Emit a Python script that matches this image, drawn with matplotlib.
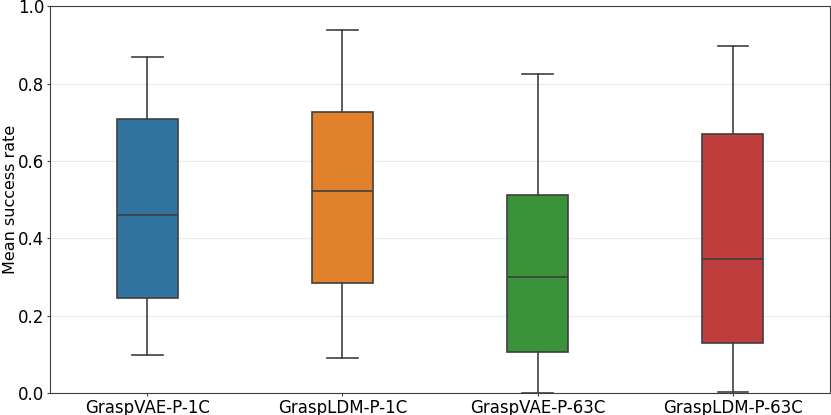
import matplotlib.pyplot as plt

# Daten pro Modell (Boxplot-Kennwerte)
labels = ["GraspVAE-P-1C", "GraspLDM-P-1C", "GraspVAE-P-63C", "GraspLDM-P-63C"]
whislo = [0.098, 0.090, 0.000, 0.003]
q1 = [0.245, 0.284, 0.106, 0.130]
med = [0.460, 0.522, 0.300, 0.346]
q3 = [0.708, 0.726, 0.511, 0.670]
whishi = [0.868, 0.938, 0.825, 0.896]
colors = ["#3274a1", "#e1812c", "#3a923a", "#c03d3e"]

stats = []
for i in range(len(labels)):
    stats.append({"label": labels[i], "whislo": whislo[i], "q1": q1[i],
                  "med": med[i], "q3": q3[i], "whishi": whishi[i], "fliers": []})

fig, ax = plt.subplots(figsize=(8.31, 4.15), dpi=100)
bp = ax.bxp(stats, positions=range(len(labels)), widths=0.31, patch_artist=True,
            showfliers=False,
            boxprops=dict(edgecolor="#3f3f3f", linewidth=1.2),
            medianprops=dict(color="#3f3f3f", linewidth=1.2),
            whiskerprops=dict(color="#3f3f3f", linewidth=1.2),
            capprops=dict(color="#3f3f3f", linewidth=1.2))
for patch, c in zip(bp["boxes"], colors):
    patch.set_facecolor(c)

ax.set_xlim(-0.5, 3.5)
ax.set_ylim(0, 1.0)
ax.set_ylabel("Mean success rate", fontsize=11.5)
ax.yaxis.set_label_coords(-0.041, 0.5)
ax.tick_params(labelsize=12, length=2, pad=2, color="#3f3f3f")
ax.yaxis.grid(True, color="#ebebeb", linewidth=0.8)
ax.set_axisbelow(True)
for s in ax.spines.values():
    s.set_color("#3f3f3f")

plt.subplots_adjust(left=0.06, right=0.999, top=0.985, bottom=0.053)
plt.savefig("out.png")
